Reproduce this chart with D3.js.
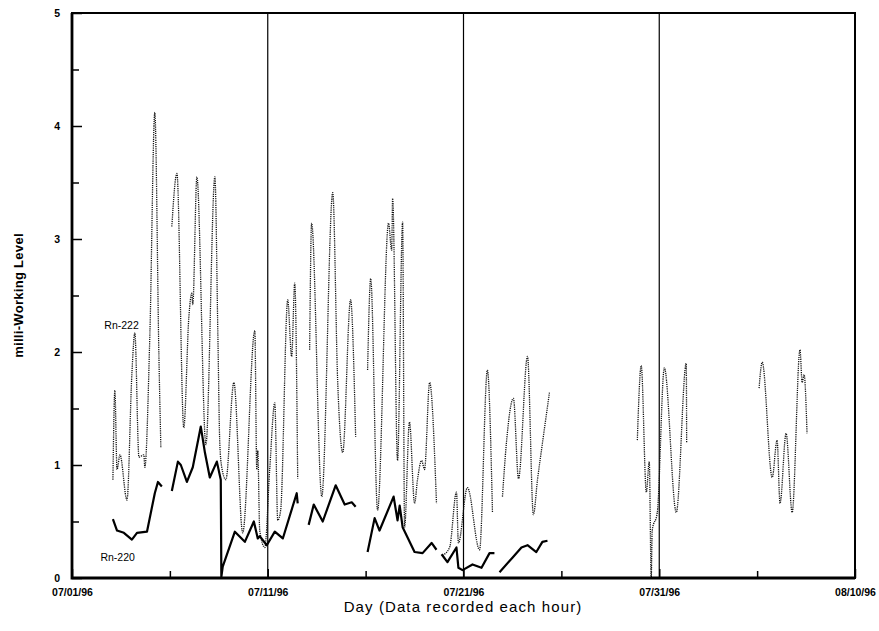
<!DOCTYPE html>
<html>
<head>
<meta charset="utf-8">
<script src="https://cdn.jsdelivr.net/npm/d3@7"></script>
<style>
	body { margin: 0; background: #fff; }
	svg { display: block; font-family: "Liberation Sans", Arial, sans-serif; }
</style>
</head>
<body>
<svg width="879" height="631"></svg>
<script>

	// day offsets are counted from 07/01/96 00:00, values in milli-Working Level

	var rn222_segments = [
		[[2.09,0.87],[2.19,1.66],[2.30,0.96],[2.45,1.09],[2.81,0.69],[3.06,1.81],[3.21,2.17],[3.42,1.07],
		 [3.67,1.09],[3.72,0.98],[3.98,2.17],[4.23,4.12],[4.44,1.96],[4.54,1.15]],
		[[5.10,3.11],[5.36,3.58],[5.71,1.33],[5.97,2.31],[6.12,2.52],[6.17,2.42],[6.38,3.55],[6.84,1.18],
		 [7.30,3.55],[7.45,2.17],[7.55,1.19],[7.65,0.98],[7.86,0.87],[8.27,1.73],[8.72,0.40],[9.34,2.19],
		 [9.44,0.96],[9.49,1.13],[9.59,0.42],[9.85,0.27],[10.10,0.96],[10.36,1.55],[10.51,0.51],[10.66,0.60],
		 [11.02,2.46],[11.22,1.96],[11.38,2.61],[11.53,0.88]],
		[[12.14,2.02],[12.24,3.14],[12.76,0.72],[13.32,3.41],[13.57,1.75],[13.83,1.11],[14.23,2.46],[14.49,1.25]],
		[[15.10,1.84],[15.26,2.65],[15.61,0.60],[16.17,3.14],[16.33,2.90],[16.38,3.36],[16.63,1.04],[16.89,3.15],
		 [16.99,0.45],[17.24,1.38],[17.50,0.66],[17.65,0.87],[17.86,1.04],[18.01,0.96],[18.27,1.73],[18.62,0.66]],
		[[18.93,0.20],[19.29,0.27],[19.64,0.76],[19.74,0.31],[20.20,0.80],[20.82,0.25],[21.22,1.84],[21.48,0.58]],
		[[21.99,0.72],[22.19,1.19],[22.55,1.59],[22.81,0.88],[23.27,1.96],[23.57,0.56],[23.78,0.87],[24.03,1.19],
		 [24.39,1.64]],
		[[28.88,1.22],[29.08,1.88],[29.34,0.76],[29.49,1.03],[29.59,0.00],[29.64,0.42],[29.90,0.58],[30.26,1.86],
		 [30.87,0.58],[31.38,1.90],[31.40,1.20]],
		[[35.10,1.68],[35.26,1.91],[35.77,0.89],[36.02,1.22],[36.17,0.66],[36.48,1.28],[36.79,0.58],[37.19,2.02],
		 [37.30,1.73],[37.40,1.80],[37.55,1.28]]
	];

	var rn220_segments = [
		[[2.09,0.52],[2.30,0.42],[2.65,0.40],[3.06,0.34],[3.32,0.40],[3.83,0.41],[4.23,0.75],[4.39,0.85],[4.59,0.81]],
		[[5.10,0.77],[5.41,1.03],[5.56,1.00],[5.87,0.85],[6.17,0.98],[6.58,1.34],[6.79,1.11],[7.04,0.89],
		 [7.40,1.03],[7.60,0.87],[7.63,0.01],[7.70,0.10],[8.32,0.41],[8.83,0.32],[9.29,0.50],[9.49,0.35],
		 [9.59,0.37],[9.95,0.29],[10.36,0.41],[10.77,0.35],[11.48,0.75],[11.53,0.66]],
		[[12.09,0.47],[12.35,0.65],[12.81,0.50],[13.47,0.82],[13.93,0.65],[14.29,0.67],[14.49,0.63]],
		[[15.10,0.23],[15.46,0.53],[15.71,0.42],[16.43,0.72],[16.63,0.51],[16.74,0.64],[16.89,0.45],[17.50,0.23],
		 [17.91,0.22],[18.37,0.31],[18.62,0.25]],
		[[18.88,0.21],[19.18,0.14],[19.64,0.27],[19.74,0.09],[19.95,0.07],[20.46,0.12],[20.92,0.09],[21.33,0.22],
		 [21.58,0.22]],
		[[21.84,0.05],[22.50,0.18],[22.96,0.27],[23.27,0.29],[23.72,0.23],[24.03,0.32],[24.29,0.33]]
	];

	var major_days = [0, 10, 20, 30, 40];
	var minor_days = [5, 15, 25, 35];
	var grid_days = [10, 20, 30];
	var y_major = [0, 1, 2, 3, 4, 5];
	var y_minor = [0.5, 1.5, 2.5, 3.5, 4.5];

	var series_labels = [
		{"text" : "Rn-222", "day" : 1.65, "value" : 2.20},
		{"text" : "Rn-220", "day" : 1.45, "value" : 0.15}
	];

	var start_date = new Date(1996, 6, 1);

	function day_to_date(d){
		return new Date(start_date.getTime() + d * 864e5);
	}

	var svg = d3.select("svg");

	var plot_left = 72, plot_right = 855, plot_top = 13, plot_bottom = 578;

	var x = d3.scaleTime()
		.domain([day_to_date(0), day_to_date(40)])
		.range([plot_left, plot_right]);

	var y = d3.scaleLinear()
		.domain([0, 5])
		.range([plot_bottom, plot_top]);

	// vertical lines at 07/11, 07/21, 07/31
	svg.append("g").selectAll("line")
		.data(grid_days)
		.enter().append("line")
		.attr("x1", function(d){ return x(day_to_date(d)); })
		.attr("x2", function(d){ return x(day_to_date(d)); })
		.attr("y1", plot_top)
		.attr("y2", plot_bottom)
		.attr("stroke", "#000")
		.attr("stroke-width", 1.2);

	var line = d3.line()
		.x(function(d){ return x(day_to_date(d[0])); })
		.y(function(d){ return y(d[1]); });

	// hourly readings give rounded daily peaks, so smooth the dotted series
	var smooth_line = d3.line()
		.curve(d3.curveMonotoneX)
		.x(function(d){ return x(day_to_date(d[0])); })
		.y(function(d){ return y(d[1]); });

	svg.append("g").selectAll("path")
		.data(rn222_segments)
		.enter().append("path")
		.attr("d", smooth_line)
		.attr("fill", "none")
		.attr("stroke", "#111")
		.attr("stroke-width", 1.3)
		.attr("stroke-dasharray", "1.2,1");

	svg.append("g").selectAll("path")
		.data(rn220_segments)
		.enter().append("path")
		.attr("d", line)
		.attr("fill", "none")
		.attr("stroke", "#000")
		.attr("stroke-width", 2.2)
		.attr("stroke-linejoin", "round");

	// axes, ticks pointing inward
	var fmt = d3.timeFormat("%m/%d/%y");

	var x_axis = svg.append("g")
		.attr("transform", "translate(0," + plot_bottom + ")")
		.call(d3.axisBottom(x)
			.tickValues(major_days.map(day_to_date))
			.tickFormat(fmt)
			.tickSize(-9)
			.tickPadding(11));

	svg.append("g")
		.attr("transform", "translate(0," + plot_bottom + ")")
		.call(d3.axisBottom(x)
			.tickValues(minor_days.map(day_to_date))
			.tickFormat("")
			.tickSize(-7));

	var y_axis = svg.append("g")
		.attr("transform", "translate(" + plot_left + ",0)")
		.call(d3.axisLeft(y)
			.tickValues(y_major)
			.tickFormat(d3.format("d"))
			.tickSize(-10)
			.tickPadding(12));

	svg.append("g")
		.attr("transform", "translate(" + plot_left + ",0)")
		.call(d3.axisLeft(y)
			.tickValues(y_minor)
			.tickFormat("")
			.tickSize(-7));

	svg.selectAll(".domain").remove();
	svg.selectAll(".tick line").attr("stroke", "#000").attr("stroke-width", 1.5);

	x_axis.selectAll("text")
		.attr("font-size", "10.5px")
		.attr("font-weight", "bold")
		.attr("fill", "#000");

	y_axis.selectAll("text")
		.attr("font-size", "10.5px")
		.attr("font-weight", "bold")
		.attr("fill", "#000");

	// frame
	svg.append("rect")
		.attr("x", plot_left)
		.attr("y", plot_top)
		.attr("width", plot_right - plot_left)
		.attr("height", plot_bottom - plot_top)
		.attr("fill", "none")
		.attr("stroke", "#000")
		.attr("stroke-width", 2);

	svg.append("path")
		.attr("d", "M" + plot_left + "," + plot_top + "V" + plot_bottom + "H" + plot_right)
		.attr("fill", "none")
		.attr("stroke", "#000")
		.attr("stroke-width", 2.8);

	// series labels
	svg.append("g").selectAll("text")
		.data(series_labels)
		.enter().append("text")
		.attr("x", function(d){ return x(day_to_date(d.day)); })
		.attr("y", function(d){ return y(d.value); })
		.attr("font-size", "10.5px")
		.attr("fill", "#000")
		.text(function(d){ return d.text; });

	// axis titles
	svg.append("text")
		.attr("transform", "translate(23," + ((plot_top + plot_bottom) / 2) + ") rotate(-90)")
		.attr("text-anchor", "middle")
		.attr("font-size", "13px")
		.attr("font-weight", "bold")
		.attr("letter-spacing", "0.3px")
		.text("milli-Working Level");

	svg.append("text")
		.attr("x", 463)
		.attr("y", 612)
		.attr("text-anchor", "middle")
		.attr("font-size", "15px")
		.attr("letter-spacing", "1.1px")
		.text("Day (Data recorded each hour)");

</script>
</body>
</html>
